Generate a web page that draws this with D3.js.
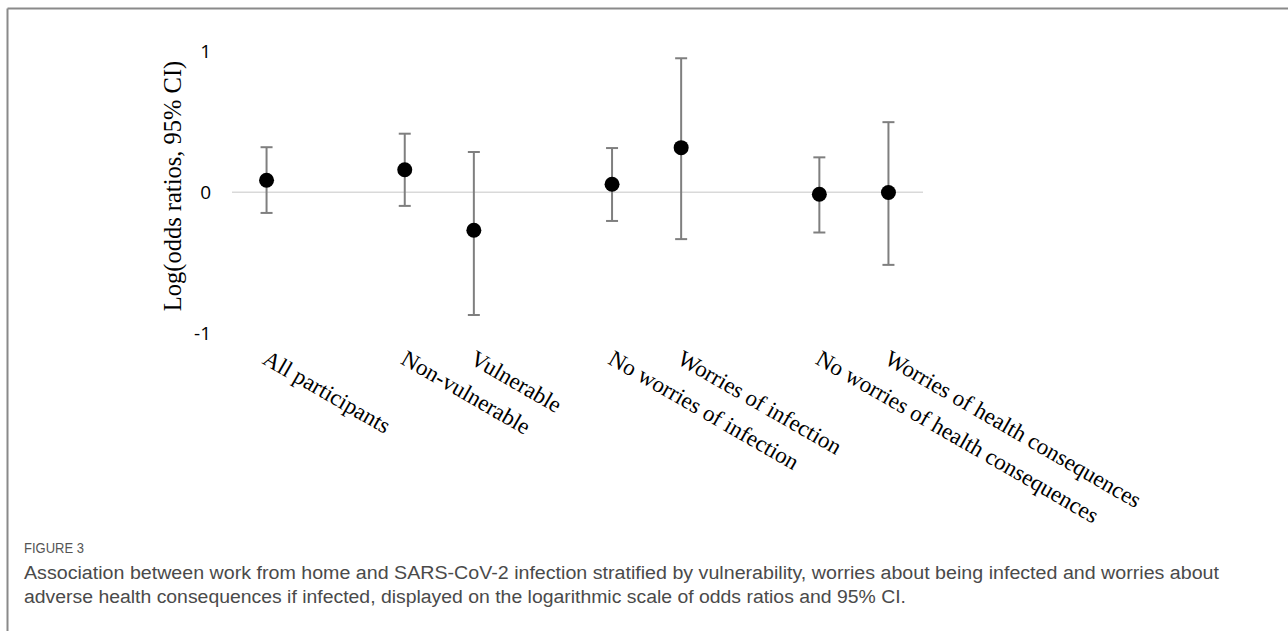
<!DOCTYPE html>
<html>
<head>
<meta charset="utf-8">
<script src="https://cdn.jsdelivr.net/npm/d3@7"></script>
<style>
  html, body { margin: 0; padding: 0; background: #fff; }
  svg { display: block; }
</style>
</head>
<body>
<svg id="chart" width="1288" height="631"></svg>
<script>
// ---- data ----
const categories = ["All participants", "", "Non-vulnerable", "Vulnerable", "", "No worries of infection", "Worries of infection", "", "No worries of health consequences", "Worries of health consequences"];
const estimates = [0.085, null, 0.16, -0.27, null, 0.057, 0.317, null, -0.014, -0.002];
const lowerCI   = [-0.147, null, -0.097, -0.872, null, -0.204, -0.333, null, -0.286, -0.516];
const upperCI   = [0.32, null, 0.416, 0.286, null, 0.314, 0.952, null, 0.248, 0.498];
const yTicks = [-1, 0, 1];
const yTickLabels = ["-1", "0", "1"];
const yTitle = "Log(odds ratios, 95% CI)";
const figureLabel = "FIGURE 3";
const captionLines = [
  "Association between work from home and SARS-CoV-2 infection stratified by vulnerability, worries about being infected and worries about",
  "adverse health consequences if infected, displayed on the logarithmic scale of odds ratios and 95% CI."
];

const svg = d3.select("#chart");
const W = 1288, H = 631;

// frame (top and left border)
svg.append("line").attr("x1", 7.5).attr("x2", W).attr("y1", 8.5).attr("y2", 8.5)
  .attr("stroke", "#8a8a8a").attr("stroke-width", 2);
svg.append("line").attr("x1", 7.5).attr("x2", 7.5).attr("y1", 8.5).attr("y2", H)
  .attr("stroke", "#8a8a8a").attr("stroke-width", 2);

const idx = categories.map((d, i) => i);
const x = d3.scaleBand().domain(idx).range([232, 923]).padding(0);
const y = d3.scaleLinear().domain([-1, 1]).range([333, 51.5]);
const cx = i => x(i) + x.bandwidth() / 2;

// zero line
svg.append("line")
  .attr("x1", x.range()[0]).attr("x2", x.range()[1])
  .attr("y1", y(0)).attr("y2", y(0))
  .attr("stroke", "#d9d9d9").attr("stroke-width", 1.5);

// y axis
const yAxis = d3.axisLeft(y).tickValues(yTicks).tickSize(0).tickPadding(21)
  .tickFormat(d => yTickLabels[yTicks.indexOf(d)]);
const gy = svg.append("g").attr("transform", `translate(${x.range()[0]},0)`).call(yAxis);
gy.select(".domain").remove();
gy.selectAll("text")
  .attr("font-family", "'Open Sans', 'Liberation Sans', sans-serif")
  .attr("font-size", 19).attr("fill", "#000");

// y title
svg.append("text")
  .attr("transform", `translate(172,186) rotate(-90)`)
  .attr("text-anchor", "middle").attr("dominant-baseline", "central")
  .attr("font-family", "'Liberation Serif', 'Times New Roman', serif")
  .attr("font-size", 24.5).attr("fill", "#000")
  .text(yTitle);

const pts = idx.filter(i => estimates[i] !== null);

// error bars
const eb = svg.append("g").attr("stroke", "#7f7f7f").attr("stroke-width", 2).attr("fill", "none");
pts.forEach(i => {
  eb.append("line").attr("x1", cx(i)).attr("x2", cx(i)).attr("y1", y(lowerCI[i])).attr("y2", y(upperCI[i]));
  eb.append("line").attr("x1", cx(i) - 6).attr("x2", cx(i) + 6).attr("y1", y(lowerCI[i])).attr("y2", y(lowerCI[i]));
  eb.append("line").attr("x1", cx(i) - 6).attr("x2", cx(i) + 6).attr("y1", y(upperCI[i])).attr("y2", y(upperCI[i]));
});

// points
svg.append("g").selectAll("circle").data(pts).join("circle")
  .attr("cx", i => cx(i)).attr("cy", i => y(estimates[i])).attr("r", 7.5).attr("fill", "#000");

// category labels
svg.append("g").selectAll("text").data(idx.filter(i => categories[i] !== "")).join("text")
  .attr("transform", i => `translate(${cx(i) + 4},${347}) rotate(30)`)
  .attr("text-anchor", "start").attr("dy", "0.8em")
  .attr("font-family", "'Liberation Serif', 'Times New Roman', serif")
  .attr("font-size", 23).attr("fill", "#000")
  .text(i => categories[i]);

// caption
svg.append("text").attr("x", 24).attr("y", 553)
  .attr("font-family", "'Liberation Sans', sans-serif")
  .attr("font-size", 14).attr("fill", "#555")
  .attr("textLength", 60).attr("lengthAdjust", "spacingAndGlyphs")
  .text(figureLabel);
const capWidths = [1195, 882];
captionLines.forEach((t, k) => {
  svg.append("text").attr("x", 24).attr("y", 579 + k * 24)
    .attr("font-family", "'Liberation Sans', sans-serif")
    .attr("font-size", 18).attr("fill", "#4a4a4a")
    .attr("textLength", capWidths[k]).attr("lengthAdjust", "spacingAndGlyphs")
    .text(t);
});
</script>
</body>
</html>
